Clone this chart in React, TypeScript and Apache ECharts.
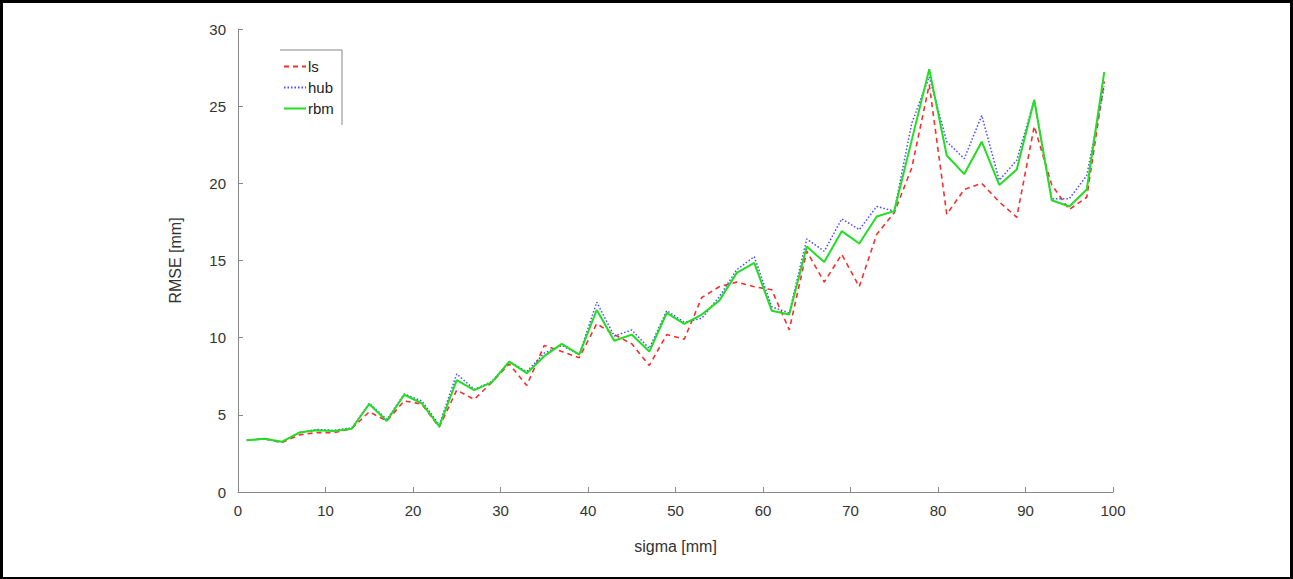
import React, { useEffect, useRef } from "react";
import * as echarts from "echarts";

const sigma = [1, 3, 5, 7, 9, 11, 13, 15, 17, 19, 21, 23, 25, 27, 29, 31, 33, 35, 37, 39, 41, 43, 45, 47, 49, 51, 53, 55, 57, 59, 61, 63, 65, 67, 69, 71, 73, 75, 77, 79, 81, 83, 85, 87, 89, 91, 93, 95, 97, 99];

const lsValues = [3.35, 3.45, 3.2, 3.7, 3.85, 3.85, 4.1, 5.2, 4.6, 5.9, 5.7, 4.2, 6.6, 6.0, 7.1, 8.3, 6.9, 9.5, 9.1, 8.7, 10.9, 10.2, 9.6, 8.2, 10.2, 9.9, 12.6, 13.3, 13.6, 13.3, 13.1, 10.5, 15.6, 13.6, 15.4, 13.3, 16.7, 18.1, 21.0, 26.4, 18.0, 19.6, 20.0, 18.8, 17.8, 23.7, 19.9, 18.3, 19.1, 26.6];

const hubValues = [3.35, 3.45, 3.25, 3.85, 4.05, 4.0, 4.15, 5.75, 4.7, 6.35, 5.9, 4.35, 7.65, 6.65, 7.15, 8.45, 7.8, 9.0, 9.5, 8.9, 12.3, 10.1, 10.5, 9.3, 11.75, 11.0, 11.25, 12.65, 14.4, 15.25, 12.0, 11.6, 16.4, 15.6, 17.7, 17.0, 18.5, 18.2, 23.9, 26.9, 22.7, 21.6, 24.4, 20.2, 21.5, 25.4, 19.0, 19.0, 20.5, 26.3];

const rbmValues = [3.35, 3.45, 3.25, 3.85, 4.0, 3.95, 4.1, 5.7, 4.6, 6.3, 5.75, 4.25, 7.25, 6.6, 7.1, 8.45, 7.7, 8.8, 9.6, 8.9, 11.8, 9.8, 10.2, 9.1, 11.6, 10.9, 11.5, 12.4, 14.2, 14.85, 11.75, 11.5, 15.9, 14.9, 16.9, 16.1, 17.85, 18.2, 22.8, 27.4, 21.8, 20.6, 22.7, 19.9, 20.9, 25.4, 18.9, 18.5, 19.6, 27.2];

const seriesNames = ["ls", "hub", "rbm"];
const xAxisName = "sigma [mm]";
const yAxisName = "RMSE [mm]";

const FONT = "'Liberation Sans', Arial, sans-serif";

export default function App() {
  const ref = useRef<HTMLDivElement>(null);

  useEffect(() => {
    if (!ref.current) return;
    const chart = echarts.init(ref.current, undefined, { renderer: "svg" });
    const pair = (vals: number[]) => sigma.map((s, i) => [s, vals[i]]);
    const axisColor = "#888";
    const labelColor = "#333";
    chart.setOption({
      animation: false,
      grid: { left: 238, top: 29, right: 180, bottom: 87, containLabel: false },
      legend: {
        orient: "vertical",
        left: 283,
        top: 59,
        itemWidth: 22,
        itemHeight: 12,
        itemGap: 6,
        padding: 0,
        itemStyle: { opacity: 0 },
        textStyle: { fontSize: 15, color: "#222", fontFamily: FONT, padding: [0, 0, 0, -3] },
        data: seriesNames,
      },
      xAxis: {
        type: "value",
        min: 0,
        max: 100,
        interval: 10,
        name: xAxisName,
        nameLocation: "middle",
        nameGap: 46,
        nameTextStyle: { fontSize: 16, color: labelColor, fontFamily: FONT },
        axisLine: { show: true, lineStyle: { color: axisColor, width: 1 } },
        axisTick: { show: true, inside: true, length: 5, lineStyle: { color: axisColor } },
        axisLabel: { fontSize: 15, color: labelColor, fontFamily: FONT, margin: 11 },
        splitLine: { show: false },
      },
      yAxis: {
        type: "value",
        min: 0,
        max: 30,
        interval: 5,
        name: yAxisName,
        nameLocation: "middle",
        nameGap: 55,
        nameRotate: 90,
        nameTextStyle: { fontSize: 16, color: labelColor, fontFamily: FONT },
        axisLine: { show: true, lineStyle: { color: axisColor, width: 1 } },
        axisTick: { show: true, inside: true, length: 5, lineStyle: { color: axisColor } },
        axisLabel: { fontSize: 15, color: labelColor, fontFamily: FONT, margin: 12 },
        splitLine: { show: false },
      },
      graphic: [
        { type: "line", shape: { x1: 280, y1: 50, x2: 342, y2: 50 }, style: { stroke: "#888", lineWidth: 1 } },
        { type: "line", shape: { x1: 342, y1: 50, x2: 342, y2: 125 }, style: { stroke: "#888", lineWidth: 1 } },
      ],
      series: [
        {
          name: seriesNames[0],
          type: "line",
          data: pair(lsValues),
          symbol: "none",
          lineStyle: { color: "#f23030", width: 1.6, type: [5, 4] },
          itemStyle: { color: "#f23030" },
        },
        {
          name: seriesNames[1],
          type: "line",
          data: pair(hubValues),
          symbol: "none",
          lineStyle: { color: "#4a4aff", width: 1.5, type: [1.5, 2] },
          itemStyle: { color: "#4a4aff" },
        },
        {
          name: seriesNames[2],
          type: "line",
          data: pair(rbmValues),
          symbol: "none",
          lineStyle: { color: "#22dd22", width: 2 },
          itemStyle: { color: "#22dd22" },
        },
      ],
    });
    return () => chart.dispose();
  }, []);

  return (
    <div style={{ position: "absolute", left: 0, top: 0, width: 1293, height: 579, background: "#fff" }}>
      <div ref={ref} style={{ position: "absolute", left: 0, top: 0, width: 1293, height: 579 }} />
      <div
        style={{
          position: "absolute",
          left: 0,
          top: 0,
          width: 1293,
          height: 579,
          boxSizing: "border-box",
          borderTop: "3px solid #000",
          borderLeft: "3px solid #000",
          borderRight: "3px solid #000",
          borderBottom: "2px solid #000",
          pointerEvents: "none",
        }}
      />
    </div>
  );
}
